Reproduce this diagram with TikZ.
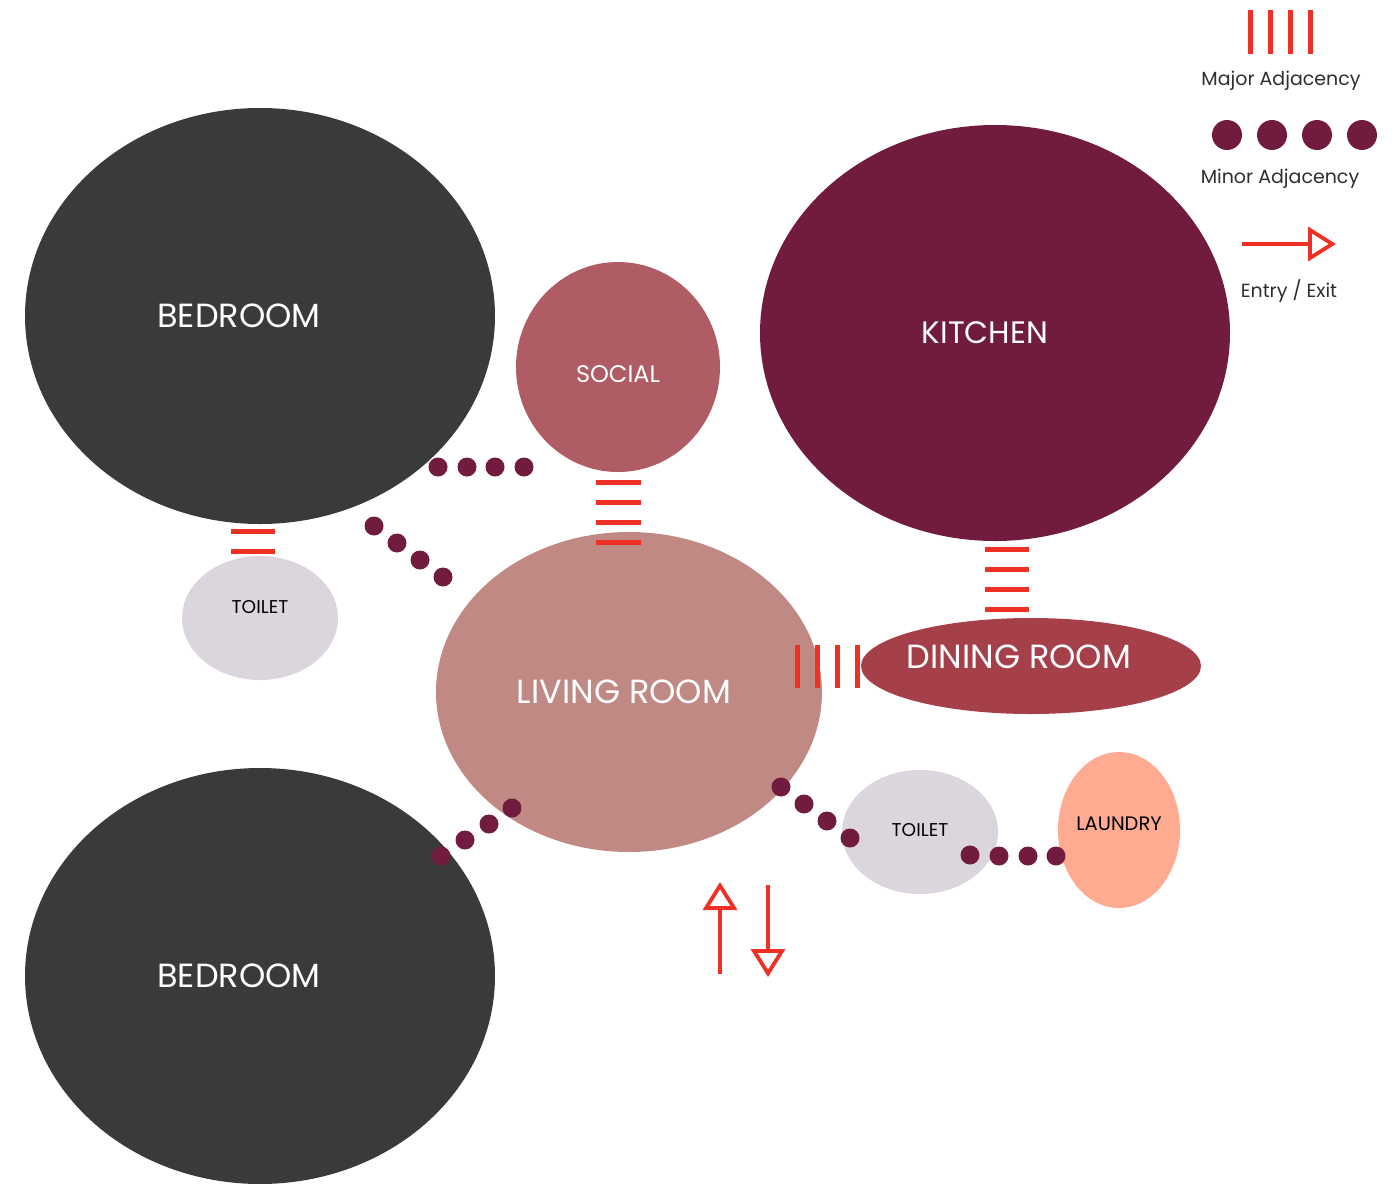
\documentclass[tikz,border=0pt]{standalone}
\usepackage{fontspec}
\setmainfont{Poppins}
\usetikzlibrary{shapes.geometric}
\usetikzlibrary{arrows.meta}
\definecolor{bedGray}{HTML}{393B38}
\definecolor{socialRose}{HTML}{B05C64}
\definecolor{kitchenWine}{HTML}{711C3E}
\definecolor{livingPink}{HTML}{C08984}
\definecolor{diningRed}{HTML}{A5404A}
\definecolor{toiletLilac}{HTML}{DBD6DE}
\definecolor{laundrySalmon}{HTML}{FFAB92}
\definecolor{adjRed}{HTML}{EE3124}
\definecolor{legendText}{HTML}{2E2E2E}

\begin{document}
\begin{tikzpicture}[x=1pt, y=-1pt,
    room/.style={ellipse, inner sep=0pt, draw=none},
    bigLabel/.style={text=white, font=\fontsize{33.5}{33.5}\selectfont},
    smallLabel/.style={text=black, font=\fontsize{18.5}{18.5}\selectfont},
    legendLabel/.style={text=legendText, font=\fontsize{19}{19}\selectfont},
    major/.style={draw=adjRed, line width=5pt},
    minorDot/.style={fill=kitchenWine},
    entry/.style={draw=adjRed, line width=3.8pt, -{Triangle[open, length=28pt, width=34pt]}}]
    \useasboundingbox (0,0) rectangle (1397,1183);

    % rooms
    \node [room, fill=bedGray, minimum width=470pt, minimum height=416pt] (bed_top) at (260,316) {};
    \node [room, fill=bedGray, minimum width=470pt, minimum height=416pt] (bed_bottom) at (260,976) {};
    \node [room, fill=socialRose, minimum width=204pt, minimum height=210pt] (social) at (618,367) {};
    \node [room, fill=kitchenWine, minimum width=470pt, minimum height=416pt] (kitchen) at (995,333) {};
    \node [room, fill=livingPink, minimum width=386pt, minimum height=320pt] (living) at (629,692) {};
    \node [room, fill=diningRed, minimum width=340pt, minimum height=96pt] (dining) at (1031,666) {};
    \node [room, fill=toiletLilac, minimum width=156pt, minimum height=124pt] (toilet_left) at (260,618) {};
    \node [room, fill=toiletLilac, minimum width=156pt, minimum height=124pt] (toilet_right) at (920,832) {};
    \node [room, fill=laundrySalmon, minimum width=122pt, minimum height=156pt] (laundry) at (1119,830) {};

    % room names
    \node [bigLabel] (bed_top_txt) at ([xshift=-21pt]bed_top.center) {BEDROOM};
    \node [bigLabel] (bed_bottom_txt) at ([xshift=-21pt]bed_bottom.center) {BEDROOM};
    \node [bigLabel, font=\fontsize{24}{24}\selectfont] (social_txt) at ([yshift=-7pt]social.center) {SOCIAL};
    \node [bigLabel, font=\fontsize{31}{31}\selectfont] (kitchen_txt) at ([xshift=-10pt]kitchen.center) {KITCHEN};
    \node [bigLabel] (living_txt) at ([xshift=-5pt]living.center) {LIVING ROOM};
    \node [bigLabel] (dining_txt) at ([xshift=-12pt, yshift=9pt]dining.center) {DINING ROOM};
    \node [smallLabel] (toilet_left_txt) at ([yshift=11pt]toilet_left.center) {TOILET};
    \node [smallLabel] (toilet_right_txt) at ([yshift=2pt]toilet_right.center) {TOILET};
    \node [smallLabel, font=\fontsize{19.5}{19.5}\selectfont] (laundry_txt) at ([yshift=6pt]laundry.center) {LAUNDRY};

    % major adjacency
    \foreach \y in {482,502,522,542} \draw [major] (596,\y) -- (641,\y);
    \foreach \y in {531,551} \draw [major] (231,\y) -- (275,\y);
    \foreach \y in {549,569,589,609} \draw [major] (985,\y) -- (1029,\y);
    \foreach \x in {797,817,837,857} \draw [major] (\x,645) -- (\x,688);

    % minor adjacency
    \foreach \p in {(438,467),(467,467),(495,467),(524,467),
                    (374,526),(397,543),(420,560),(443,577),
                    (512,808),(489,824),(465,840),(441,856),
                    (781,787),(804,804),(827,821),(850,838),
                    (970,855),(999,856),(1028,856),(1056,856)}
        \fill [minorDot] \p circle (9.5);

    % entry / exit
    \coordinate (in_start) at (720,974);
    \coordinate (in_end) at (720,882);
    \coordinate (out_start) at (768,885);
    \coordinate (out_end) at (768,977);
    \draw [entry] (in_start) -- (in_end);
    \draw [entry] (out_start) -- (out_end);

    % legend
    \foreach \x in {1250,1270,1290,1310} \draw [major] (\x,10) -- (\x,54);
    \node [legendLabel] (major_txt) at (1281,81) {Major Adjacency};
    \foreach \x in {1227,1272,1317,1362} \fill [minorDot] (\x,135) circle (15);
    \node [legendLabel] (minor_txt) at (1280,179) {Minor Adjacency};
    \coordinate (key_start) at (1242,244);
    \coordinate (key_end) at (1336,244);
    \draw [entry] (key_start) -- (key_end);
    \node [legendLabel] (entry_txt) at (1289,291) {Entry / Exit};
\end{tikzpicture}
\end{document}
